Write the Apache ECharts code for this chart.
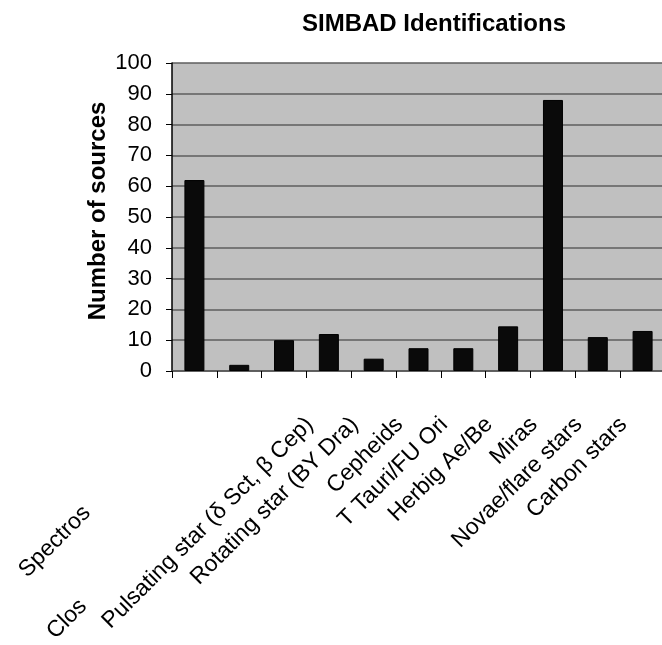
<!DOCTYPE html>
<html>
<head>
<meta charset="utf-8">
<script src="https://cdn.jsdelivr.net/npm/echarts@6/dist/echarts.min.js"></script>
<style>html,body{margin:0;padding:0;background:#fff}#c{width:662px;height:645px}</style>
</head>
<body>
<div id="c"></div>
<script>
var categories = ['Spectros', '', 'Clos', 'Pulsating star (δ Sct, β Cep)', 'Rotating star (BY Dra)', 'Cepheids', 'T Tauri/FU Ori', 'Herbig Ae/Be', 'Miras', 'Novae/flare stars', 'Carbon stars'];
var sources = [62, 2, 10, 12, 4, 7.4, 7.4, 14.5, 88, 11, 13];
var yTicks = { min: 0, max: 100, interval: 10 };
var gapStyle = ['g1', '', 'g2', '', '', '', '', '', '', '', ''];

var FONT = '"Liberation Sans", Arial, sans-serif';
var chart = echarts.init(document.getElementById('c'), null, { renderer: 'canvas' });
chart.setOption({
  animation: false,
  backgroundColor: '#ffffff',
  title: {
    text: 'SIMBAD Identifications',
    left: 429, top: 7, textAlign: 'center',
    textStyle: { fontFamily: FONT, fontSize: 24, fontWeight: 'bold', color: '#000' }
  },
  grid: {
    left: 172, top: 63, width: 493, height: 308,
    show: true, backgroundColor: '#c0c0c0', borderWidth: 0,
    containLabel: false, outerBoundsMode: 'none'
  },
  xAxis: {
    type: 'category',
    data: categories,
    axisLine: { show: true, lineStyle: { color: '#555', width: 1.5 } },
    axisTick: { show: true, length: 7, lineStyle: { color: '#000', width: 1 } },
    axisLabel: {
      interval: 0, rotate: 45, margin: 31,
      fontFamily: FONT, fontSize: 23, color: '#000',
      padding: [0, 27, 0, 0],
      formatter: function (v, i) {
        if (gapStyle[i]) return '{t|' + v + '}{' + gapStyle[i] + '|}';
        return v;
      },
      rich: {
        t: { fontFamily: FONT, fontSize: 23, color: '#000' },
        g1: { width: 125, fontSize: 23 },
        g2: { width: 257, fontSize: 23 }
      }
    },
    splitLine: { show: false }
  },
  yAxis: {
    type: 'value',
    min: yTicks.min, max: yTicks.max, interval: yTicks.interval,
    name: 'Number of sources',
    nameLocation: 'middle', nameGap: 62, nameRotate: 90, nameMoveOverlap: false,
    nameTextStyle: { fontFamily: FONT, fontSize: 24, fontWeight: 'bold', color: '#000', padding: [0, 0, 0, 12] },
    axisLine: { show: true, lineStyle: { color: '#000', width: 1.5 } },
    axisTick: { show: true, length: 6, lineStyle: { color: '#000', width: 1 } },
    axisLabel: { fontFamily: FONT, fontSize: 22, color: '#000', margin: 20 },
    splitLine: { show: true, lineStyle: { color: '#5e5e5e', width: 1.5 } }
  },
  series: [{
    type: 'bar',
    data: sources,
    barWidth: 20,
    itemStyle: { color: '#0a0a0a', borderColor: '#000', borderWidth: 1 }
  }]
});
</script>
</body>
</html>
